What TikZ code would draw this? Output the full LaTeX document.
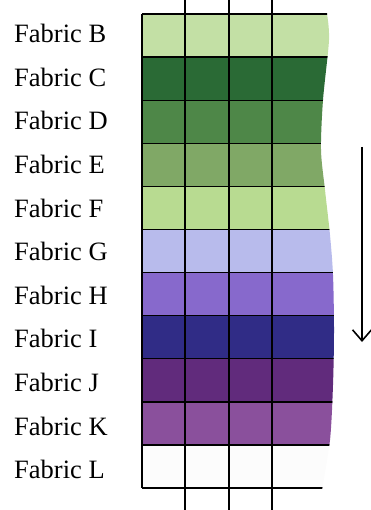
\documentclass[tikz,border=0pt]{standalone}
\usepackage{fontspec}
\setmainfont{Liberation Serif}
\usetikzlibrary{calc}
\usetikzlibrary{arrows.meta}

\definecolor{fabB}{HTML}{C3E0A5}
\definecolor{fabC}{HTML}{2A6A35}
\definecolor{fabD}{HTML}{4E8748}
\definecolor{fabE}{HTML}{80A866}
\definecolor{fabF}{HTML}{B8DB91}
\definecolor{fabG}{HTML}{B8BBEC}
\definecolor{fabH}{HTML}{8769CC}
\definecolor{fabI}{HTML}{302C86}
\definecolor{fabJ}{HTML}{612B7C}
\definecolor{fabK}{HTML}{8A509C}
\definecolor{fabL}{HTML}{FCFCFC}

\tikzset{
  fabname/.style={anchor=base west, inner sep=0, font=\fontsize{26.5}{30}\selectfont},
  gridline/.style={black, line width=1.3pt}
}

\begin{document}
\begin{tikzpicture}[x=1pt, y=-1pt]
\useasboundingbox (0,0) rectangle (370,510);
\def\rowh{43.1}

% swatches, cut off by the wavy right edge
\begin{scope}
\clip (142,12) -- (327,12) -- plot[smooth] coordinates {(327,14) (329,40) (323,100) (321,150) (325,190) (330,235) (333,275) (334,330) (333,385) (330,440) (322,490)} -- (142,490) -- cycle;
\foreach \c [count=\i from 0] in {fabB,fabC,fabD,fabE,fabF,fabG,fabH,fabI,fabJ,fabK,fabL} {
  \fill[\c] (142,14+\i*\rowh) rectangle (345,14+\i*\rowh+\rowh); }
\foreach \i in {0,...,11} {
  \draw[gridline] (142,14+\i*\rowh) -- (345,14+\i*\rowh); }
\end{scope}

\draw[gridline] (142,14) -- (142,488);
\foreach \x in {185,229,272} {
  \draw[gridline] (\x,0) -- (\x,510); }

\foreach \l [count=\i from 0] in {B,C,D,E,F,G,H,I,J,K,L} {
  \node[fabname] (name\l) at (14,42.7+\i*43.6) {Fabric \l}; }

\coordinate (arrtop) at (362,147);
\coordinate (arrbot) at (362,342);
\draw[black, line width=1.6pt, -{Straight Barb[length=11pt,width=19pt]}] (arrtop) -- (arrbot);

\end{tikzpicture}
\end{document}
